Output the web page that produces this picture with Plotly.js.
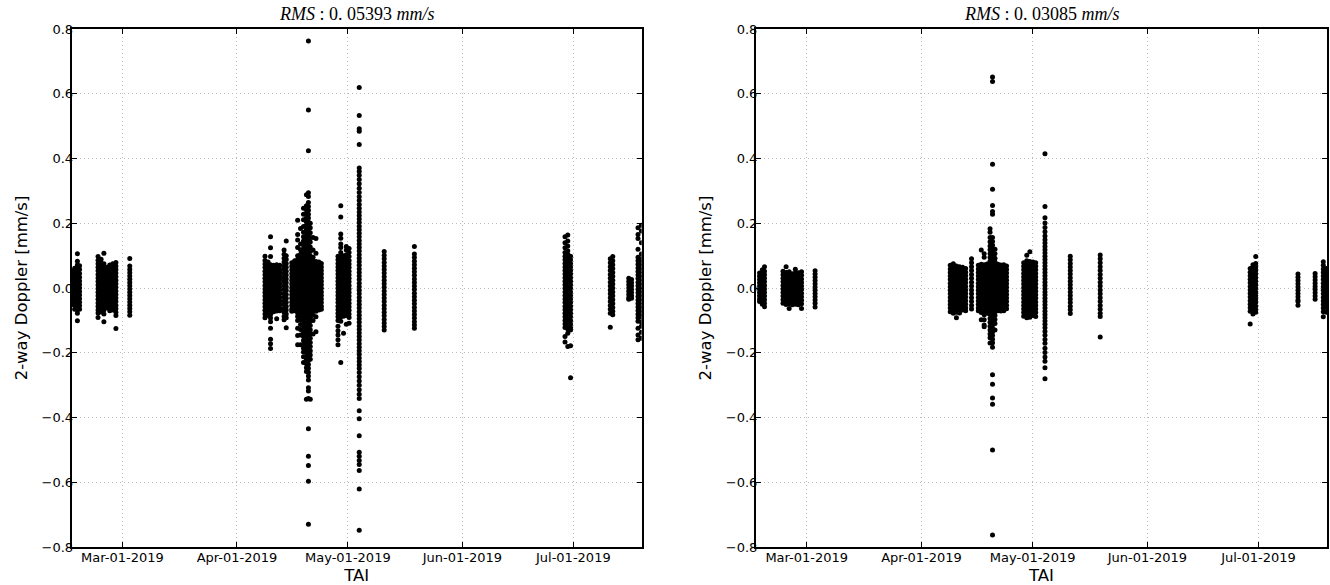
<!DOCTYPE html>
<html>
<head>
<meta charset="utf-8">
<script src="https://cdn.plot.ly/plotly-3.0.1.min.js"></script>
<style>html,body{margin:0;padding:0;background:#fff;}#chart{width:1330px;height:585px;}</style>
</head>
<body>
<div id="chart"></div>
<script>
// ---------- DATA ----------
const xRange = ['2019-02-15 07:00', '2019-07-19 12:00'];
const xTickVals = ['2019-03-01', '2019-04-01', '2019-05-01', '2019-06-01', '2019-07-01'];
const xTickText = ['Mar-01-2019', 'Apr-01-2019', 'May-01-2019', 'Jun-01-2019', 'Jul-01-2019'];
const yTickVals = [-0.8, -0.6, -0.4, -0.2, 0.0, 0.2, 0.4, 0.6, 0.8];
const titleLeft = '<i>RMS</i> : 0. 05393 <i>mm/s</i>';
const titleRight = '<i>RMS</i> : 0. 03085 <i>mm/s</i>';
const yTitle = '2-way Doppler [mm/s]';
const xTitle = 'TAI';

// Left panel: observation passes (time) and 2-way Doppler residuals [mm/s]
const leftPassTimes = [
  '2019-02-15 08:00','2019-02-16 02:00','2019-02-16 20:00','2019-02-17 10:00',
  '2019-02-22 10:00','2019-02-23 06:00','2019-02-24 00:00','2019-02-24 20:00','2019-02-25 14:00','2019-02-26 10:00','2019-02-27 06:00',
  '2019-03-03 00:00',
  '2019-04-08 14:00','2019-04-09 10:00','2019-04-10 02:00','2019-04-10 22:00','2019-04-11 18:00','2019-04-12 14:00',
  '2019-04-13 18:00','2019-04-14 08:00',
  '2019-04-15 20:00','2019-04-16 15:00','2019-04-17 10:00','2019-04-18 05:00','2019-04-19 00:00','2019-04-19 19:00',
  '2019-04-20 08:00','2019-04-20 20:00','2019-04-21 14:00','2019-04-22 09:00','2019-04-23 04:00','2019-04-23 20:00',
  '2019-04-28 08:00','2019-04-29 02:00','2019-04-29 20:00','2019-04-30 14:00','2019-05-01 08:00',
  '2019-05-04 02:00',
  '2019-05-10 20:00',
  '2019-05-19 00:00',
  '2019-06-28 18:00','2019-06-29 12:00','2019-06-30 06:00',
  '2019-07-11 00:00','2019-07-11 16:00',
  '2019-07-16 00:00','2019-07-16 18:00',
  '2019-07-18 12:00','2019-07-19 10:00'
];
const leftPassValues = [
  [0.052,0.041,0.031,0.021,0.012,0.003,-0.006,-0.015,-0.024,-0.033,-0.042,-0.051],
  [0.061,0.05,0.039,0.028,0.018,0.008,-0.002,-0.012,-0.022,-0.032,-0.043,-0.054,-0.066],
  [0.106,0.083,0.071,0.06,0.049,0.038,0.027,0.017,0.007,-0.003,-0.013,-0.023,-0.034,-0.045,-0.056,-0.067,-0.078,-0.101],
  [0.069,0.057,0.045,0.033,0.022,0.011,0.0,-0.011,-0.022,-0.033,-0.044,-0.055,-0.066],
  [0.097,0.086,0.075,0.064,0.053,0.042,0.031,0.02,0.009,-0.002,-0.013,-0.024,-0.035,-0.046,-0.057,-0.068,-0.077,-0.091],
  [0.089,0.077,0.066,0.055,0.044,0.033,0.022,0.011,0.0,-0.011,-0.022,-0.033,-0.044,-0.055,-0.066,-0.074],
  [0.107,0.075,0.064,0.053,0.042,0.031,0.02,0.009,-0.002,-0.013,-0.024,-0.035,-0.046,-0.057,-0.068,-0.08,-0.104],
  [0.064,0.053,0.042,0.031,0.02,0.009,-0.002,-0.013,-0.024,-0.035,-0.046,-0.058,-0.062],
  [0.071,0.06,0.049,0.038,0.027,0.016,0.005,-0.006,-0.017,-0.028,-0.039,-0.05,-0.061,-0.07],
  [0.075,0.064,0.053,0.042,0.031,0.02,0.009,-0.002,-0.013,-0.024,-0.035,-0.046,-0.057,-0.068],
  [0.079,0.068,0.057,0.046,0.035,0.024,0.013,0.002,-0.009,-0.02,-0.031,-0.042,-0.053,-0.064,-0.075,-0.085,-0.125],
  [0.091,0.068,0.057,0.047,0.037,0.027,0.017,0.007,-0.003,-0.013,-0.023,-0.033,-0.043,-0.053,-0.063,-0.073,-0.084],
  [0.098,0.085,0.074,0.063,0.052,0.041,0.03,0.019,0.008,-0.003,-0.014,-0.025,-0.036,-0.047,-0.058,-0.069,-0.08,-0.092],
  [0.08,0.069,0.058,0.047,0.036,0.025,0.014,0.003,-0.008,-0.019,-0.03,-0.041,-0.052,-0.063,-0.074,-0.085],
  [0.158,0.124,0.097,0.072,0.061,0.05,0.039,0.028,0.017,0.006,-0.005,-0.016,-0.027,-0.038,-0.049,-0.06,-0.071,-0.082,-0.093,-0.104,-0.124,-0.158,-0.172,-0.187],
  [0.07,0.059,0.048,0.037,0.026,0.015,0.004,-0.007,-0.018,-0.029,-0.04,-0.051,-0.062,-0.073],
  [0.072,0.061,0.05,0.039,0.028,0.017,0.006,-0.005,-0.016,-0.027,-0.038,-0.049,-0.06,-0.071,-0.095],
  [0.07,0.059,0.048,0.037,0.026,0.015,0.004,-0.007,-0.018,-0.029,-0.04,-0.051,-0.062,-0.07],
  [0.117,0.104,0.092,0.08,0.068,0.056,0.044,0.032,0.02,0.008,-0.004,-0.016,-0.028,-0.04,-0.052,-0.064,-0.076,-0.088,-0.098],
  [0.145,0.1,0.088,0.076,0.064,0.052,0.04,0.028,0.016,0.004,-0.008,-0.02,-0.032,-0.044,-0.056,-0.068,-0.08,-0.092,-0.123],
  [0.078,0.067,0.056,0.045,0.034,0.023,0.012,0.001,-0.01,-0.021,-0.032,-0.043,-0.054,-0.065,-0.072],
  [0.084,0.073,0.062,0.051,0.04,0.029,0.018,0.007,-0.004,-0.015,-0.026,-0.037,-0.048,-0.059,-0.07],
  [0.209,0.165,0.148,0.125,0.1,0.088,0.077,0.066,0.055,0.044,0.033,0.022,0.011,0.0,-0.011,-0.022,-0.033,-0.044,-0.055,-0.066,-0.077,-0.088,-0.1,-0.124,-0.147,-0.175],
  [0.184,0.136,0.118,0.104,0.092,0.081,0.07,0.059,0.048,0.037,0.026,0.015,0.004,-0.007,-0.018,-0.029,-0.04,-0.051,-0.062,-0.073,-0.085,-0.098,-0.113,-0.128,-0.145,-0.175],
  [0.246,0.228,0.211,0.19,0.172,0.158,0.145,0.133,0.121,0.109,0.097,0.086,0.075,0.064,0.053,0.042,0.031,0.02,0.009,-0.002,-0.013,-0.024,-0.035,-0.046,-0.057,-0.068,-0.079,-0.09,-0.102,-0.114,-0.126,-0.138,-0.15,-0.162,-0.174,-0.186,-0.198,-0.212,-0.23],
  [0.288,0.254,0.241,0.229,0.217,0.205,0.193,0.181,0.169,0.157,0.145,0.133,0.121,0.109,0.097,0.086,0.075,0.064,0.053,0.042,0.031,0.02,0.009,-0.002,-0.013,-0.024,-0.035,-0.046,-0.057,-0.068,-0.079,-0.09,-0.102,-0.114,-0.126,-0.138,-0.15,-0.162,-0.174,-0.186,-0.198,-0.21,-0.222,-0.234,-0.246,-0.258,-0.344],
  [0.763,0.55,0.424,0.294,0.283,0.264,0.252,0.24,0.228,0.216,0.204,0.192,0.18,0.168,0.156,0.144,0.132,0.12,0.108,0.096,0.085,0.074,0.063,0.052,0.041,0.03,0.019,0.008,-0.003,-0.014,-0.025,-0.036,-0.047,-0.058,-0.069,-0.08,-0.092,-0.104,-0.116,-0.128,-0.14,-0.152,-0.164,-0.176,-0.188,-0.2,-0.212,-0.224,-0.236,-0.248,-0.26,-0.272,-0.284,-0.308,-0.318,-0.341,-0.435,-0.52,-0.548,-0.597,-0.73],
  [0.2,0.186,0.171,0.156,0.142,0.127,0.113,0.099,0.087,0.076,0.065,0.054,0.043,0.032,0.021,0.01,-0.001,-0.012,-0.023,-0.034,-0.045,-0.056,-0.067,-0.078,-0.09,-0.103,-0.116,-0.129,-0.142,-0.155,-0.168,-0.181,-0.194,-0.207,-0.22,-0.344],
  [0.156,0.117,0.095,0.083,0.072,0.061,0.05,0.039,0.028,0.017,0.006,-0.005,-0.016,-0.027,-0.038,-0.049,-0.06,-0.071,-0.084,-0.1,-0.142],
  [0.153,0.107,0.082,0.071,0.06,0.049,0.038,0.027,0.016,0.005,-0.006,-0.017,-0.028,-0.039,-0.05,-0.061,-0.072,-0.089,-0.135],
  [0.08,0.069,0.058,0.047,0.036,0.025,0.014,0.003,-0.008,-0.019,-0.03,-0.041,-0.052,-0.063,-0.068],
  [0.076,0.065,0.054,0.043,0.032,0.021,0.01,-0.001,-0.012,-0.023,-0.034,-0.045,-0.056,-0.066],
  [0.098,0.087,0.076,0.065,0.054,0.043,0.032,0.021,0.01,-0.001,-0.012,-0.023,-0.034,-0.045,-0.056,-0.067,-0.078,-0.089,-0.1,-0.118,-0.132,-0.145,-0.16,-0.175],
  [0.254,0.219,0.167,0.154,0.136,0.125,0.11,0.098,0.087,0.076,0.065,0.054,0.043,0.032,0.021,0.01,-0.001,-0.012,-0.023,-0.034,-0.045,-0.056,-0.067,-0.078,-0.089,-0.103,-0.23],
  [0.1,0.089,0.078,0.067,0.056,0.045,0.034,0.023,0.012,0.001,-0.01,-0.021,-0.032,-0.043,-0.054,-0.065,-0.076,-0.087,-0.14],
  [0.128,0.117,0.103,0.091,0.08,0.069,0.058,0.047,0.036,0.025,0.014,0.003,-0.008,-0.019,-0.03,-0.041,-0.052,-0.063,-0.074,-0.085,-0.112],
  [0.122,0.11,0.097,0.085,0.074,0.063,0.052,0.041,0.03,0.019,0.008,-0.003,-0.014,-0.025,-0.036,-0.047,-0.058,-0.069,-0.08,-0.091,-0.109],
  [0.619,0.533,0.492,0.484,0.443,0.371,0.36,0.348,0.335,0.322,0.308,0.295,0.282,0.27,0.258,0.246,0.235,0.224,0.213,0.202,0.191,0.18,0.169,0.158,0.147,0.136,0.125,0.114,0.103,0.092,0.081,0.07,0.059,0.048,0.037,0.026,0.015,0.004,-0.007,-0.018,-0.029,-0.04,-0.051,-0.062,-0.073,-0.084,-0.095,-0.106,-0.117,-0.128,-0.139,-0.15,-0.161,-0.172,-0.183,-0.194,-0.205,-0.216,-0.227,-0.238,-0.249,-0.261,-0.274,-0.287,-0.3,-0.314,-0.328,-0.341,-0.379,-0.404,-0.456,-0.507,-0.52,-0.533,-0.545,-0.564,-0.621,-0.748],
  [0.113,0.101,0.09,0.079,0.068,0.057,0.046,0.035,0.024,0.013,0.002,-0.009,-0.02,-0.031,-0.042,-0.053,-0.064,-0.075,-0.086,-0.097,-0.108,-0.119,-0.13],
  [0.128,0.105,0.094,0.083,0.072,0.061,0.05,0.039,0.028,0.017,0.006,-0.005,-0.016,-0.027,-0.038,-0.049,-0.06,-0.071,-0.082,-0.093,-0.104,-0.114,-0.124],
  [0.158,0.14,0.124,0.11,0.098,0.087,0.076,0.065,0.054,0.043,0.032,0.021,0.01,-0.001,-0.012,-0.023,-0.034,-0.045,-0.056,-0.067,-0.078,-0.089,-0.1,-0.111,-0.122,-0.15,-0.167],
  [0.164,0.145,0.13,0.115,0.104,0.093,0.082,0.071,0.06,0.049,0.038,0.027,0.016,0.005,-0.006,-0.017,-0.028,-0.039,-0.05,-0.061,-0.072,-0.083,-0.094,-0.105,-0.116,-0.127,-0.14,-0.181],
  [0.098,0.087,0.076,0.065,0.054,0.043,0.032,0.021,0.01,-0.001,-0.012,-0.023,-0.034,-0.045,-0.056,-0.067,-0.078,-0.089,-0.1,-0.111,-0.122,-0.13,-0.178,-0.277],
  [0.09,0.078,0.066,0.054,0.042,0.03,0.018,0.006,-0.006,-0.018,-0.03,-0.042,-0.054,-0.066,-0.078,-0.121],
  [0.097,0.084,0.072,0.06,0.048,0.036,0.024,0.012,0.0,-0.012,-0.024,-0.036,-0.048,-0.06,-0.072,-0.083],
  [0.03,0.02,0.01,0.0,-0.01,-0.02,-0.03,-0.035],
  [0.026,0.016,0.006,-0.004,-0.014,-0.024,-0.032],
  [0.186,0.165,0.153,0.12,0.095,0.084,0.073,0.062,0.051,0.04,0.029,0.018,0.007,-0.004,-0.015,-0.026,-0.037,-0.048,-0.059,-0.07,-0.081,-0.092,-0.103,-0.124,-0.145,-0.16],
  [0.194,0.176,0.14,0.105,0.09,0.078,0.066,0.054,0.042,0.03,0.018,0.006,-0.006,-0.018,-0.03,-0.042,-0.054,-0.066,-0.078,-0.09,-0.105,-0.118,-0.137,-0.155]
];

// Right panel
const rightPassTimes = [
  '2019-02-16 06:00','2019-02-17 00:00','2019-02-17 14:00',
  '2019-02-22 14:00','2019-02-23 10:00','2019-02-24 06:00','2019-02-25 02:00','2019-02-25 22:00','2019-02-26 18:00','2019-02-27 14:00',
  '2019-03-03 06:00',
  '2019-04-08 18:00','2019-04-09 14:00','2019-04-10 10:00','2019-04-11 06:00','2019-04-12 02:00','2019-04-12 22:00',
  '2019-04-14 12:00',
  '2019-04-16 08:00','2019-04-17 03:00','2019-04-17 22:00','2019-04-18 17:00','2019-04-19 12:00','2019-04-20 04:00',
  '2019-04-20 20:00','2019-04-21 15:00','2019-04-22 10:00','2019-04-23 05:00','2019-04-23 23:00',
  '2019-04-28 14:00','2019-04-29 10:00','2019-04-30 06:00','2019-05-01 02:00','2019-05-01 20:00',
  '2019-05-04 08:00',
  '2019-05-11 04:00',
  '2019-05-19 06:00',
  '2019-06-28 18:00','2019-06-29 12:00','2019-06-30 06:00',
  '2019-07-11 16:00',
  '2019-07-16 07:00',
  '2019-07-18 12:00','2019-07-19 08:00'
];
const rightPassValues = [
  [0.046,0.036,0.026,0.016,0.006,-0.004,-0.014,-0.024,-0.034,-0.042],
  [0.056,0.045,0.034,0.023,0.012,0.001,-0.01,-0.021,-0.032,-0.043,-0.05],
  [0.066,0.052,0.041,0.03,0.019,0.008,-0.003,-0.014,-0.025,-0.036,-0.047,-0.058],
  [0.052,0.041,0.03,0.019,0.008,-0.003,-0.014,-0.025,-0.036,-0.047],
  [0.066,0.048,0.037,0.026,0.015,0.004,-0.007,-0.018,-0.029,-0.04,-0.051],
  [0.05,0.039,0.028,0.017,0.006,-0.005,-0.016,-0.027,-0.038,-0.049,-0.063],
  [0.044,0.033,0.022,0.011,0.0,-0.011,-0.022,-0.033,-0.044,-0.052],
  [0.058,0.046,0.035,0.024,0.013,0.002,-0.009,-0.02,-0.031,-0.042,-0.05],
  [0.047,0.036,0.025,0.014,0.003,-0.008,-0.019,-0.03,-0.041,-0.052],
  [0.05,0.039,0.028,0.017,0.006,-0.005,-0.016,-0.027,-0.038,-0.049,-0.063],
  [0.053,0.043,0.033,0.023,0.013,0.003,-0.007,-0.017,-0.027,-0.037,-0.047,-0.059],
  [0.07,0.059,0.048,0.037,0.026,0.015,0.004,-0.007,-0.018,-0.029,-0.04,-0.051,-0.062,-0.073],
  [0.075,0.064,0.053,0.042,0.031,0.02,0.009,-0.002,-0.013,-0.024,-0.035,-0.046,-0.057,-0.068,-0.078],
  [0.068,0.057,0.046,0.035,0.024,0.013,0.002,-0.009,-0.02,-0.031,-0.042,-0.053,-0.064,-0.075,-0.092],
  [0.066,0.055,0.044,0.033,0.022,0.011,0.0,-0.011,-0.022,-0.033,-0.044,-0.055,-0.066,-0.077],
  [0.064,0.053,0.042,0.031,0.02,0.009,-0.002,-0.013,-0.024,-0.035,-0.046,-0.057,-0.068],
  [0.06,0.049,0.038,0.027,0.016,0.005,-0.006,-0.017,-0.028,-0.039,-0.05,-0.061,-0.07],
  [0.09,0.078,0.066,0.054,0.042,0.03,0.018,0.006,-0.006,-0.018,-0.03,-0.042,-0.054,-0.065],
  [0.07,0.059,0.048,0.037,0.026,0.015,0.004,-0.007,-0.018,-0.029,-0.04,-0.051,-0.062,-0.07],
  [0.117,0.073,0.062,0.051,0.04,0.029,0.018,0.007,-0.004,-0.015,-0.026,-0.037,-0.048,-0.059,-0.07,-0.076,-0.098],
  [0.106,0.095,0.072,0.061,0.05,0.039,0.028,0.017,0.006,-0.005,-0.016,-0.027,-0.038,-0.049,-0.06,-0.071,-0.083,-0.098,-0.114,-0.12],
  [0.074,0.063,0.052,0.041,0.03,0.019,0.008,-0.003,-0.014,-0.025,-0.036,-0.047,-0.058,-0.069,-0.078],
  [0.183,0.172,0.156,0.143,0.13,0.118,0.106,0.094,0.083,0.072,0.061,0.05,0.039,0.028,0.017,0.006,-0.005,-0.016,-0.027,-0.038,-0.049,-0.06,-0.071,-0.082,-0.094,-0.106,-0.118,-0.13,-0.142,-0.154,-0.17],
  [0.652,0.638,0.382,0.305,0.255,0.236,0.228,0.156,0.144,0.132,0.12,0.108,0.096,0.084,0.073,0.062,0.051,0.04,0.029,0.018,0.007,-0.004,-0.015,-0.026,-0.037,-0.048,-0.059,-0.07,-0.081,-0.092,-0.103,-0.114,-0.125,-0.136,-0.147,-0.158,-0.169,-0.183,-0.268,-0.297,-0.34,-0.359,-0.5,-0.763],
  [0.12,0.106,0.092,0.08,0.069,0.058,0.047,0.036,0.025,0.014,0.003,-0.008,-0.019,-0.03,-0.041,-0.052,-0.063,-0.074,-0.085,-0.097,-0.11,-0.13],
  [0.073,0.062,0.051,0.04,0.029,0.018,0.007,-0.004,-0.015,-0.026,-0.037,-0.048,-0.059,-0.07],
  [0.071,0.06,0.049,0.038,0.027,0.016,0.005,-0.006,-0.017,-0.028,-0.039,-0.05,-0.061,-0.071],
  [0.072,0.061,0.05,0.039,0.028,0.017,0.006,-0.005,-0.016,-0.027,-0.038,-0.049,-0.06,-0.07],
  [0.068,0.057,0.046,0.035,0.024,0.013,0.002,-0.009,-0.02,-0.031,-0.042,-0.053,-0.064],
  [0.078,0.067,0.056,0.045,0.034,0.023,0.012,0.001,-0.01,-0.021,-0.032,-0.043,-0.054,-0.065,-0.076,-0.087],
  [0.101,0.084,0.073,0.062,0.051,0.04,0.029,0.018,0.007,-0.004,-0.015,-0.026,-0.037,-0.048,-0.059,-0.07,-0.081,-0.092],
  [0.112,0.082,0.071,0.06,0.049,0.038,0.027,0.016,0.005,-0.006,-0.017,-0.028,-0.039,-0.05,-0.061,-0.072,-0.083,-0.09],
  [0.08,0.069,0.058,0.047,0.036,0.025,0.014,0.003,-0.008,-0.019,-0.03,-0.041,-0.052,-0.063,-0.074,-0.085],
  [0.078,0.067,0.056,0.045,0.034,0.023,0.012,0.001,-0.01,-0.021,-0.032,-0.043,-0.054,-0.065,-0.076,-0.088],
  [0.415,0.252,0.217,0.201,0.187,0.174,0.161,0.149,0.139,0.128,0.118,0.108,0.098,0.088,0.078,0.068,0.058,0.048,0.038,0.028,0.018,0.008,-0.002,-0.012,-0.022,-0.032,-0.042,-0.052,-0.062,-0.072,-0.082,-0.092,-0.102,-0.112,-0.123,-0.134,-0.146,-0.159,-0.171,-0.186,-0.199,-0.213,-0.226,-0.246,-0.28],
  [0.098,0.087,0.076,0.065,0.054,0.043,0.032,0.021,0.01,-0.001,-0.012,-0.023,-0.034,-0.045,-0.056,-0.067,-0.079],
  [0.102,0.09,0.078,0.066,0.054,0.042,0.03,0.018,0.006,-0.006,-0.018,-0.03,-0.042,-0.054,-0.066,-0.078,-0.088,-0.151],
  [0.06,0.049,0.038,0.027,0.016,0.005,-0.006,-0.017,-0.028,-0.039,-0.05,-0.061,-0.072,-0.111],
  [0.072,0.061,0.05,0.039,0.028,0.017,0.006,-0.005,-0.016,-0.027,-0.038,-0.049,-0.06,-0.071,-0.08],
  [0.097,0.076,0.065,0.054,0.043,0.032,0.021,0.01,-0.001,-0.012,-0.023,-0.034,-0.045,-0.056,-0.067,-0.075],
  [0.043,0.033,0.023,0.013,0.003,-0.007,-0.017,-0.027,-0.037,-0.042,-0.053],
  [0.045,0.035,0.025,0.015,0.005,-0.005,-0.015,-0.025,-0.035],
  [0.081,0.07,0.059,0.048,0.037,0.026,0.015,0.004,-0.007,-0.018,-0.029,-0.04,-0.051,-0.062,-0.073,-0.089],
  [0.06,0.048,0.036,0.024,0.012,0.0,-0.012,-0.024,-0.036,-0.048,-0.06,-0.075]
];

// ---------- BUILD ----------
function buildTrace(times, values, xa, ya) {
  const x = [], y = [];
  times.forEach((t, i) => values[i].forEach(v => { x.push(t); y.push(v); }));
  return {
    type: 'scatter', mode: 'markers', x: x, y: y, xaxis: xa, yaxis: ya,
    marker: {color: '#000000', size: 5, line: {width: 0}},
    hoverinfo: 'skip', showlegend: false
  };
}

const W = 1330, H = 585, T = 29, B = 38;
const plotH = H - T - B;
const gridStyle = {showgrid: true, gridcolor: '#bdbdbd', griddash: '1px,3px', gridwidth: 1};

function xAxis(domain, anchor) {
  return Object.assign({
    domain: domain, anchor: anchor, type: 'date', range: xRange,
    tickmode: 'array', tickvals: xTickVals, ticktext: xTickText,
    zeroline: false, showline: true, linecolor: '#000', linewidth: 2, mirror: 'allticks',
    ticks: 'inside', ticklen: 5, tickwidth: 1, tickcolor: '#000',
    ticklabelstandoff: -3,
    tickfont: {family: 'DejaVu Sans', size: 13, color: '#000'},
    title: {text: xTitle, font: {family: 'DejaVu Sans', size: 16.5, color: '#000'}, standoff: 10},
    fixedrange: true
  }, gridStyle);
}
function yAxis(anchor) {
  return Object.assign({
    domain: [0, 1], anchor: anchor, range: [-0.8, 0.8],
    tickmode: 'array', tickvals: yTickVals, tickformat: '.1f',
    zeroline: false, showline: true, linecolor: '#000', linewidth: 2, mirror: 'allticks',
    ticks: 'inside', ticklen: 5, tickwidth: 1, tickcolor: '#000',
    ticklabelstandoff: -6,
    tickfont: {family: 'DejaVu Sans', size: 13, color: '#000'},
    title: {text: yTitle, font: {family: 'DejaVu Sans', size: 16.5, color: '#000'}, standoff: 10},
    fixedrange: true
  }, gridStyle);
}

const leftDom = [71.7 / W, 641.7 / W];
const rightDom = [756 / W, 1327 / W];
const titleY = 1 + (T - 14) / plotH;

const layout = {
  width: W, height: H,
  margin: {l: 0, r: 0, t: T, b: B, pad: 0},
  paper_bgcolor: '#fff', plot_bgcolor: '#fff',
  showlegend: false,
  font: {family: 'DejaVu Sans', size: 13, color: '#000'},
  xaxis: xAxis(leftDom, 'y'),
  yaxis: yAxis('x'),
  xaxis2: xAxis(rightDom, 'y2'),
  yaxis2: yAxis('x2'),
  annotations: [
    {text: titleLeft, xref: 'paper', yref: 'paper', x: (leftDom[0] + leftDom[1]) / 2, y: titleY,
     xanchor: 'center', yanchor: 'middle', showarrow: false,
     font: {family: 'Liberation Serif', size: 18, color: '#000'}},
    {text: titleRight, xref: 'paper', yref: 'paper', x: (rightDom[0] + rightDom[1]) / 2, y: titleY,
     xanchor: 'center', yanchor: 'middle', showarrow: false,
     font: {family: 'Liberation Serif', size: 18, color: '#000'}}
  ]
};

const data = [
  buildTrace(leftPassTimes, leftPassValues, 'x', 'y'),
  buildTrace(rightPassTimes, rightPassValues, 'x2', 'y2')
];

Plotly.newPlot('chart', data, layout, {staticPlot: true, displayModeBar: false});
</script>
</body>
</html>
